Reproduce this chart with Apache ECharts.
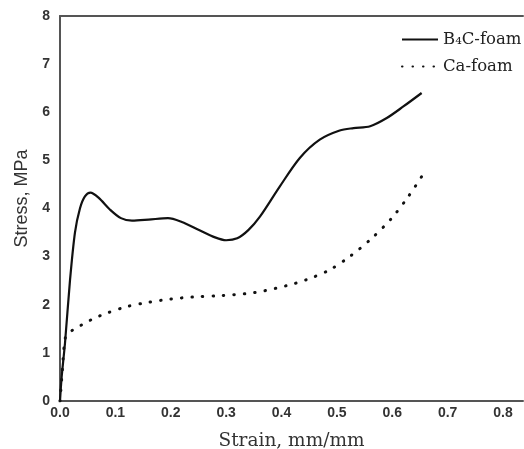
<!DOCTYPE html>
<html>
<head>
<meta charset="utf-8">
<script src="https://cdn.jsdelivr.net/npm/echarts@6/dist/echarts.min.js"></script>
<style>html,body{margin:0;padding:0;background:#fff}#c{width:524px;height:449px}</style>
</head>
<body>
<div id="c"></div>
<script>
const b4cStrain = [0, 0.003, 0.009, 0.018, 0.027, 0.036, 0.045, 0.055, 0.07, 0.09, 0.11, 0.13, 0.16, 0.195, 0.22, 0.25, 0.28, 0.30, 0.32, 0.34, 0.361, 0.397, 0.433, 0.469, 0.505, 0.53, 0.56, 0.59, 0.62, 0.653];
const b4cStress = [0, 0.5, 1.2, 2.5, 3.5, 4.0, 4.25, 4.33, 4.22, 3.98, 3.80, 3.75, 3.77, 3.80, 3.72, 3.56, 3.40, 3.34, 3.38, 3.55, 3.83, 4.46, 5.05, 5.43, 5.62, 5.67, 5.71, 5.88, 6.12, 6.40];
const caStrain = [0, 0.004, 0.008, 0.012, 0.024, 0.042, 0.062, 0.081, 0.12, 0.16, 0.2, 0.24, 0.29, 0.35, 0.41, 0.445, 0.486, 0.523, 0.561, 0.599, 0.629, 0.654];
const caStress = [0, 0.6, 1.2, 1.38, 1.48, 1.60, 1.72, 1.81, 1.96, 2.05, 2.12, 2.16, 2.19, 2.25, 2.40, 2.52, 2.72, 3.0, 3.36, 3.80, 4.25, 4.68];
const xTicks = ['0.0','0.1','0.2','0.3','0.4','0.5','0.6','0.7','0.8'];
const seriesNames = ['B\u2084C-foam', 'Ca-foam'];

const chart = echarts.init(document.getElementById('c'));
const axisColor = '#555';
const serif = 'DejaVu Serif, Liberation Serif, serif';
const sans = 'Liberation Sans, Arial, sans-serif';
chart.setOption({
  animation: false,
  backgroundColor: '#fff',
  grid: { left: 60, top: 16, right: 1, bottom: 48, containLabel: false, outerBoundsMode: 'none' },
  legend: {
    orient: 'vertical', left: 396, top: 26, itemWidth: 36, itemHeight: 14, itemGap: 10,
    itemStyle: { opacity: 0 },
    textStyle: { fontFamily: serif, fontSize: 16.5, color: '#222' },
    data: seriesNames
  },
  xAxis: [{
    type: 'value', min: 0, max: 0.836, interval: 0.1,
    name: 'Strain, mm/mm', nameLocation: 'middle', nameGap: 31,
    nameTextStyle: { fontFamily: serif, fontSize: 18.5, color: '#333' },
    axisLine: { show: true, lineStyle: { color: axisColor, width: 2 } },
    axisTick: { show: false }, splitLine: { show: false },
    axisLabel: { showMaxLabel: false, margin: 5, fontFamily: sans, fontSize: 14, fontWeight: 'bold', color: '#333',
      formatter: v => xTicks[Math.round(v * 10)] || '' }
  }, {
    type: 'value', position: 'top', min: 0, max: 0.836,
    axisLine: { show: true, lineStyle: { color: axisColor, width: 2 } },
    axisTick: { show: false }, axisLabel: { show: false }, splitLine: { show: false }
  }],
  yAxis: {
    type: 'value', min: 0, max: 8, interval: 1,
    name: 'Stress, MPa', nameLocation: 'middle', nameGap: 27,
    nameTextStyle: { fontFamily: sans, fontSize: 18, color: '#333', padding: [0, 0, 0, 20] },
    axisLine: { show: true, lineStyle: { color: axisColor, width: 2 } },
    axisTick: { show: false }, splitLine: { show: false },
    axisLabel: { margin: 10, fontFamily: sans, fontSize: 14, fontWeight: 'bold', color: '#333' }
  },
  series: [{
    name: seriesNames[0], type: 'line', smooth: 0.3, symbol: 'none',
    lineStyle: { color: '#111', width: 2.2 }, itemStyle: { color: '#111' },
    data: b4cStrain.map((x, i) => [x, b4cStress[i]])
  }, {
    name: seriesNames[1], type: 'line', smooth: 0.3, symbol: 'none',
    lineStyle: { color: '#111', width: 3, type: [0.5, 10], cap: 'round' }, itemStyle: { color: '#111' },
    data: caStrain.map((x, i) => [x, caStress[i]])
  }]
});
</script>
</body>
</html>
